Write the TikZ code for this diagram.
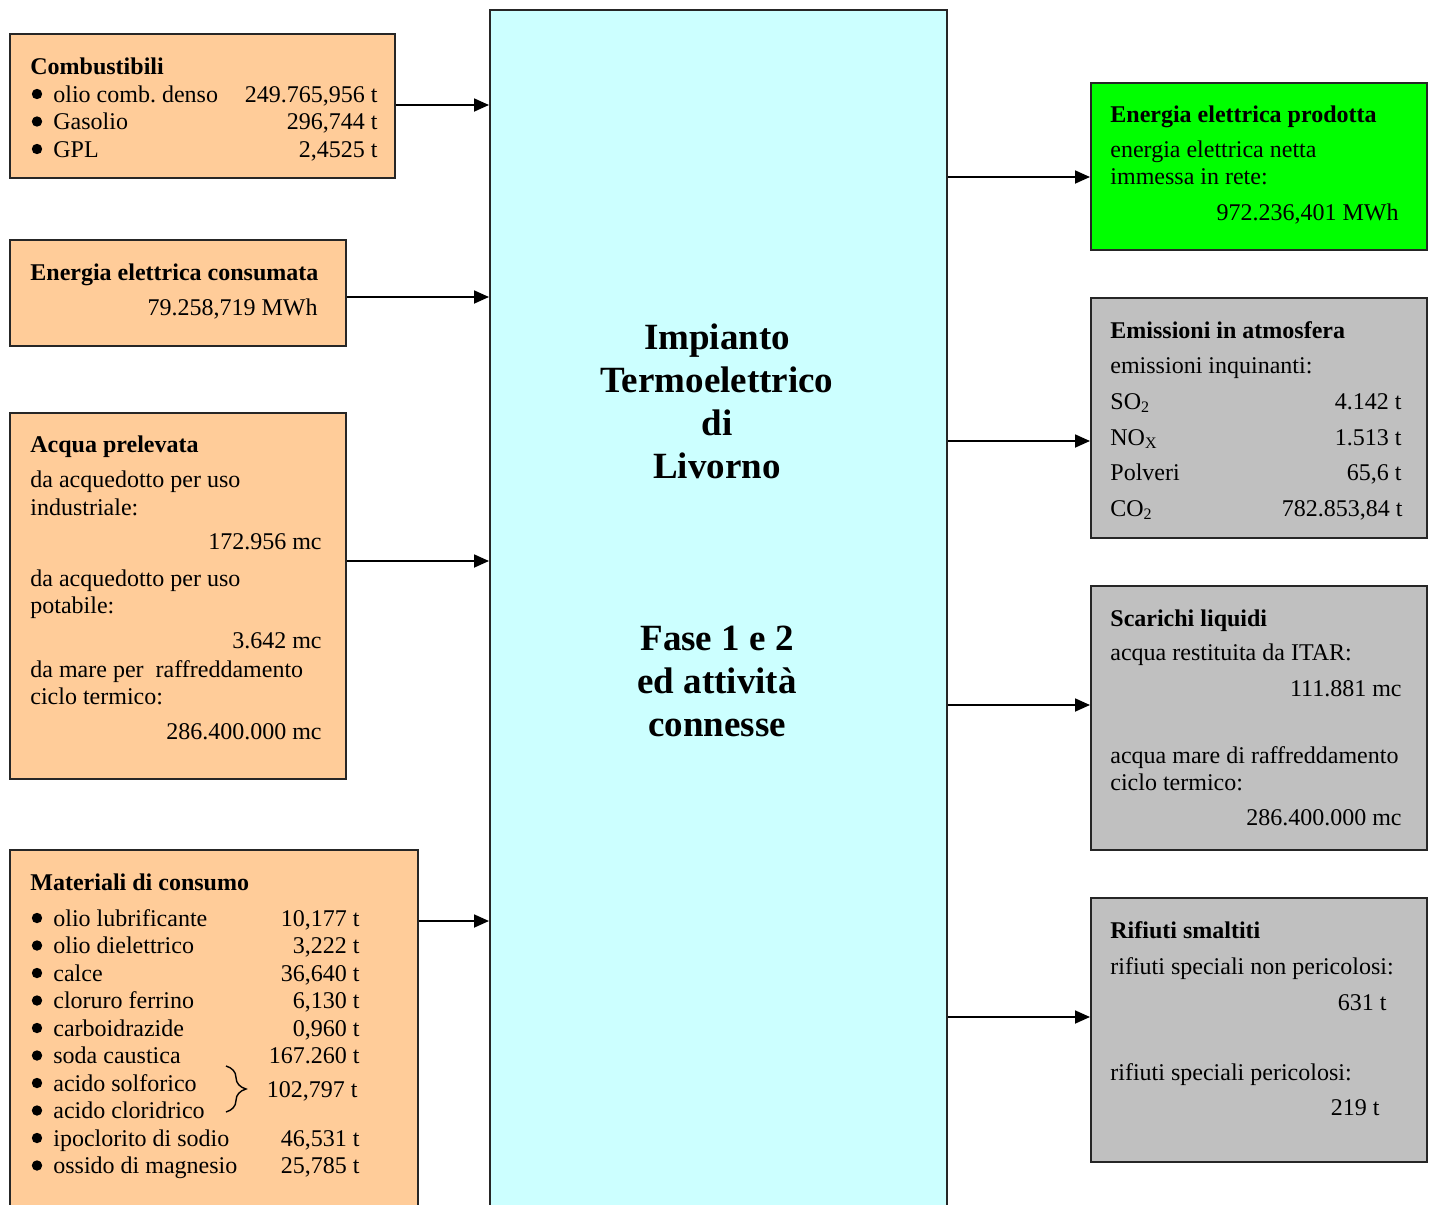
\documentclass[tikz,border=0pt]{standalone}
\usepackage{fontspec}
\setmainfont{Liberation Serif}
\usetikzlibrary{arrows.meta,decorations.pathreplacing}
\definecolor{peach}{HTML}{FFCC99}
\definecolor{cyanbox}{HTML}{CCFFFF}
\definecolor{greenbox}{HTML}{00FF00}
\definecolor{graybox}{HTML}{C0C0C0}
\newcommand\Lt[4]{\node[lt] (#1) at (#2,#3) {#4};}
\newcommand\Rt[4]{\node[rt] (#1) at (#2,#3) {#4};}
\newcommand\Bl[3]{\node[bul] (#1) at (#2,#3) {};}
\begin{document}
\begin{tikzpicture}[x=0.5pt,y=-0.5pt,
  box/.style={draw=black!85,line width=0.9pt,anchor=north west,inner sep=0pt},
  lt/.style={anchor=base west,inner sep=0pt,font=\fontsize{12}{14}\selectfont},
  rt/.style={anchor=base east,inner sep=0pt,font=\fontsize{12}{14}\selectfont},
  ttl/.style={anchor=base,inner sep=0pt,font=\fontsize{18.5}{21.5}\selectfont\bfseries},
  bul/.style={circle,fill=black,inner sep=0pt,minimum size=5.2pt},
  arr/.style={line width=0.9pt,-{Triangle[length=7.5pt,width=6.5pt]}}]
\useasboundingbox (0,0) rectangle (1432,1205);
\clip (0,0) rectangle (1432,1205);
% boxes
\node[box,fill=cyanbox,line width=1.2pt,minimum width=228.5pt,minimum height=610pt] (main) at (489,9) {};
\node[box,fill=peach,minimum width=192.5pt,minimum height=72pt] (comb) at (9,33) {};
\node[box,fill=peach,minimum width=168pt,minimum height=53pt] (econs) at (9,239) {};
\node[box,fill=peach,minimum width=168pt,minimum height=183pt] (acq) at (9,412) {};
\node[box,fill=peach,minimum width=204pt,minimum height=190pt] (mat) at (9,849) {};
\node[box,fill=greenbox,minimum width=168pt,minimum height=83.5pt] (eprod) at (1090,82) {};
\node[box,fill=graybox,minimum width=168pt,minimum height=120pt] (emis) at (1090,297) {};
\node[box,fill=graybox,minimum width=168pt,minimum height=132pt] (scar) at (1090,585) {};
\node[box,fill=graybox,minimum width=168pt,minimum height=132pt] (rif) at (1090,897) {};
% connectors
\draw[arr] (comb.east |- 0,105) -- (main.west |- 0,105);
\draw[arr] (econs.east |- 0,297) -- (main.west |- 0,297);
\draw[arr] (acq.east |- 0,561) -- (main.west |- 0,561);
\draw[arr] (mat.east |- 0,921) -- (main.west |- 0,921);
\draw[arr] (main.east |- 0,177) -- (eprod.west |- 0,177);
\draw[arr] (main.east |- 0,441) -- (emis.west |- 0,441);
\draw[arr] (main.east |- 0,705) -- (scar.west |- 0,705);
\draw[arr] (main.east |- 0,1017) -- (rif.west |- 0,1017);
% central title
\node[ttl] (m1) at (717,349) {Impianto};
\node[ttl] (m2) at (717,392) {Termoelettrico};
\node[ttl] (m3) at (717,435) {di};
\node[ttl] (m4) at (717,478) {Livorno};
\node[ttl] (m5) at (717,650) {Fase 1 e 2};
\node[ttl] (m6) at (717,693) {ed attività};
\node[ttl] (m7) at (717,736) {connesse};
% Combustibili
\Lt{c0}{30}{74}{\bfseries Combustibili}
\Bl{cb1}{37}{94}\Bl{cb2}{37}{121.5}\Bl{cb3}{37}{149}
\Lt{c1}{53}{102}{olio comb.~denso}
\Lt{c2}{53}{129.5}{Gasolio}
\Lt{c3}{53}{157}{GPL}
\Rt{cv1}{378}{102}{249.765,956 t}
\Rt{cv2}{378}{129.5}{296,744 t}
\Rt{cv3}{378}{157}{2,4525 t}
% Energia consumata
\Lt{e0}{30}{280}{\bfseries Energia elettrica consumata}
\Rt{ev}{318}{315}{79.258,719 MWh}
% Acqua prelevata
\Lt{a0}{30}{452}{\bfseries Acqua prelevata}
\Lt{a1}{30}{487}{da acquedotto per uso}
\Lt{a2}{30}{515}{industriale:}
\Rt{a3}{322}{549}{172.956 mc}
\Lt{a4}{30}{586}{da acquedotto per uso}
\Lt{a5}{30}{613}{potabile:}
\Rt{a6}{322}{648}{3.642 mc}
\Lt{a7}{30}{677}{da mare per\ \ raffreddamento}
\Lt{a8}{30}{704}{ciclo termico:}
\Rt{a9}{322}{739}{286.400.000 mc}
% Materiali di consumo
\Lt{mm0}{30}{890}{\bfseries Materiali di consumo}
\Bl{mb1}{37}{918}\Bl{mb2}{37}{945.5}\Bl{mb3}{37}{973}\Bl{mb4}{37}{1000.5}\Bl{mb5}{37}{1028}
\Bl{mb6}{37}{1055.5}\Bl{mb7}{37}{1083}\Bl{mb8}{37}{1110.5}\Bl{mb9}{37}{1138}\Bl{mb10}{37}{1165.5}
\Lt{mi1}{53}{926}{olio lubrificante}
\Lt{mi2}{53}{953.5}{olio dielettrico}
\Lt{mi3}{53}{981}{calce}
\Lt{mi4}{53}{1008.5}{cloruro ferrino}
\Lt{mi5}{53}{1036}{carboidrazide}
\Lt{mi6}{53}{1063.5}{soda caustica}
\Lt{mi7}{53}{1091}{acido solforico}
\Lt{mi8}{53}{1118.5}{acido cloridrico}
\Lt{mi9}{53}{1146}{ipoclorito di sodio}
\Lt{mi10}{53}{1173.5}{ossido di magnesio}
\Rt{mv1}{360}{926}{10,177 t}
\Rt{mv2}{360}{953.5}{3,222 t}
\Rt{mv3}{360}{981}{36,640 t}
\Rt{mv4}{360}{1008.5}{6,130 t}
\Rt{mv5}{360}{1036}{0,960 t}
\Rt{mv6}{360}{1063.5}{167.260 t}
\Rt{mv7}{358}{1097}{102,797 t}
\Rt{mv9}{360}{1146}{46,531 t}
\Rt{mv10}{360}{1173.5}{25,785 t}
\draw[line width=0.7pt,decorate,decoration={brace,amplitude=10pt}] (226,1066) -- (226,1112);
% Energia prodotta
\Lt{p0}{1110}{122}{\bfseries Energia elettrica prodotta}
\Lt{p1}{1110}{157}{energia elettrica netta}
\Lt{p2}{1110}{184}{immessa in rete:}
\Rt{p3}{1399}{220}{972.236,401 MWh}
% Emissioni
\Lt{s0}{1110}{338}{\bfseries Emissioni in atmosfera}
\Lt{s1}{1110}{373}{emissioni inquinanti:}
\Lt{s2}{1110}{409}{SO\textsubscript{2}}
\Lt{s3}{1110}{445}{NO\textsubscript{X}}
\Lt{s4}{1110}{480}{Polveri}
\Lt{s5}{1110}{516}{CO\textsubscript{2}}
\Rt{sv2}{1402}{409}{4.142 t}
\Rt{sv3}{1402}{445}{1.513 t}
\Rt{sv4}{1402}{480}{65,6 t}
\Rt{sv5}{1403}{516}{782.853,84 t}
% Scarichi
\Lt{q0}{1110}{626}{\bfseries Scarichi liquidi}
\Lt{q1}{1110}{660}{acqua restituita da ITAR:}
\Rt{q2}{1402}{696}{111.881 mc}
\Lt{q3}{1110}{763}{acqua mare di raffreddamento}
\Lt{q4}{1110}{790}{ciclo termico:}
\Rt{q5}{1402}{825}{286.400.000 mc}
% Rifiuti
\Lt{r0}{1110}{938}{\bfseries Rifiuti smaltiti}
\Lt{r1}{1110}{974}{rifiuti speciali non pericolosi:}
\Rt{r2}{1387}{1010}{631 t}
\Lt{r3}{1110}{1080}{rifiuti speciali pericolosi:}
\Rt{r4}{1380}{1115}{219 t}
\end{tikzpicture}
\end{document}
